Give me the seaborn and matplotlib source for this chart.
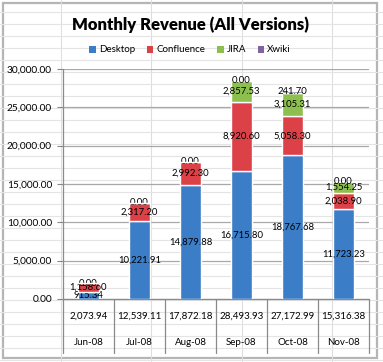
import numpy as np
import pandas as pd
import seaborn as sns
import matplotlib.pyplot as plt
from matplotlib.patches import Patch, Rectangle
from matplotlib.lines import Line2D

# Data
months = ['Jun-08', 'Jul-08', 'Aug-08', 'Sep-08', 'Oct-08', 'Nov-08']
desktop = [915.34, 10221.91, 14879.88, 16715.80, 18767.68, 11723.23]
confluence = [1158.60, 2317.20, 2992.30, 8920.60, 5058.30, 2038.90]
jira = [0.00, 0.00, 0.00, 2857.53, 3105.31, 1554.25]
xwiki = [np.nan, np.nan, np.nan, 0.00, 241.70, 0.00]

series = {'Desktop': desktop, 'Confluence': confluence, 'JIRA': jira, 'Xwiki': xwiki}
colors = {'Desktop': '#3b7dc6', 'Confluence': '#dc4148', 'JIRA': '#8dbf4e', 'Xwiki': '#8064a2'}

df = pd.DataFrame(series, index=months)
totals = df.fillna(0).sum(axis=1)

sns.set_style('white')
plt.rcParams['font.family'] = ['Lato', 'DejaVu Sans']
plt.rcParams['text.color'] = 'black'
plt.rcParams['ytick.color'] = 'black'

W, H = 383, 362
fig = plt.figure(figsize=(W / 100, H / 100), dpi=100)
fig.patch.set_facecolor('white')

# faint spreadsheet grid behind the chart
for x in [61, 151, 242, 332]:
    fig.add_artist(Line2D([x / W, x / W], [0, 1], color='#dedede', lw=0.8))
for y in range(12, H, 12):
    fig.add_artist(Line2D([0, 1], [1 - y / H, 1 - y / H], color='#e4e4e4', lw=0.8))
fig.add_artist(Rectangle((3 / W, 1 - 358 / H), 374 / W, 355 / H, facecolor='white',
                         edgecolor='#b5b5b5', lw=1.6, zorder=1))

ax = fig.add_axes([63 / W, 1 - 299 / H, 306 / W, 230 / H], zorder=2)
ax.set_facecolor('none')

bottom = np.zeros(len(months))
for name, vals in series.items():
    v = np.nan_to_num(np.array(vals, dtype=float))
    sns.barplot(x=months, y=v, bottom=bottom, color=colors[name], width=0.4,
                saturation=1, ax=ax, zorder=3)
    cont = ax.containers[-1]
    labels = ['' if np.isnan(x) else f'{x:,.2f}' for x in vals]
    ax.bar_label(cont, labels=labels, label_type='center', fontsize=6.8, color='black')
    bottom = bottom + v

ax.set_ylim(0, 30000)
ax.set_xlim(-0.5, len(months) - 0.5)
ax.set_yticks(np.arange(0, 30001, 5000))
ax.set_yticklabels([f'{t:,.2f}' for t in np.arange(0, 30001, 5000)], fontsize=7.3)
ax.yaxis.grid(True, color='#a8a8a8', lw=0.9, zorder=0)
ax.set_axisbelow(True)
ax.tick_params(axis='y', length=4, color='#888888', pad=4, left=True)
ax.set_xticks([])
ax.set_xlabel('')
for s in ['top', 'right', 'bottom', 'left']:
    ax.spines[s].set_visible(False)

# data table under the axis
tr = ax.get_xaxis_transform()
ax.plot([-0.5, len(months) - 0.5], [0, 0], color='#8a8a8a', lw=0.9, transform=tr, clip_on=False)
for b in np.arange(-0.5, len(months), 1.0):
    top = 1.0 if b == -0.5 else 0
    ax.plot([b, b], [top, -0.235], color='#8a8a8a', lw=0.9, transform=tr, clip_on=False)
for i, m in enumerate(months):
    ax.text(i, -0.074, f'{totals[m]:,.2f}', transform=tr, ha='center', va='center', fontsize=7)
    ax.text(i, -0.187, m, transform=tr, ha='center', va='center', fontsize=7)

fig.text(190 / W, 1 - 25 / H, 'Monthly Revenue (All Versions)', ha='center', va='center',
         fontsize=12, fontweight='heavy', color='black', zorder=3)
handles = [Patch(facecolor=colors[n], edgecolor='none', label=n) for n in series]
fig.legend(handles=handles, loc='center', bbox_to_anchor=(190 / W, 1 - 50 / H), ncol=4,
           frameon=False, fontsize=7, handlelength=0.7, handleheight=0.7,
           handletextpad=0.3, columnspacing=1.2)

fig.savefig('out.png', dpi=100)
